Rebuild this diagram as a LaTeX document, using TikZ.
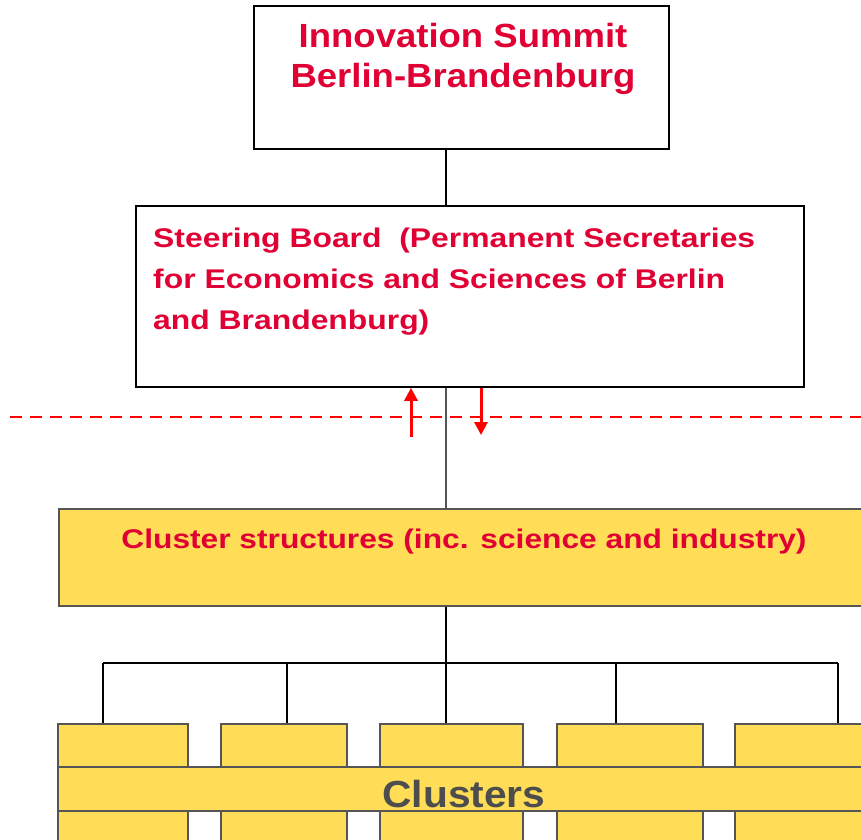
\documentclass[tikz,border=0pt]{standalone}
\usepackage{fontspec}
\setmainfont{Liberation Sans}
\usetikzlibrary{arrows.meta}
\definecolor{titlered}{RGB}{224,0,52}
\definecolor{clusteryellow}{RGB}{255,221,87}
\definecolor{edgegrey}{RGB}{85,85,85}
\definecolor{labelgrey}{RGB}{77,77,77}
\begin{document}
\begin{tikzpicture}[x=1pt,y=-1pt,
  whitebox/.style={draw=black, line width=1.6pt, fill=white, rectangle, inner sep=0pt},
  yellowbox/.style={draw=edgegrey, line width=1.6pt, fill=clusteryellow, rectangle, inner sep=0pt},
  link/.style={draw=black, line width=1.6pt},
  greylink/.style={draw=edgegrey, line width=1.6pt},
  flow/.style={draw=red, line width=3pt, -{Triangle[length=13pt,width=13pt]}},
  boundary/.style={draw=red, line width=2.5pt, dash pattern=on 12pt off 8pt},
  redtext/.style={text=titlered, font=\bfseries, inner sep=0pt, transform shape},
]
\useasboundingbox (0,0) rectangle (861,839);
\clip (0,0) rectangle (861,839);

% boxes
\node[whitebox, minimum width=415pt, minimum height=143pt] (summit) at (461.5,77.5) {};
\node[whitebox, minimum width=668pt, minimum height=181pt] (steer) at (470,296.5) {};
\node[yellowbox, minimum width=821pt, minimum height=97pt] (cstruct) at (469.5,557.5) {};

% cluster boxes
\node[yellowbox, minimum width=130pt, minimum height=136pt] (c1) at (123,792) {};
\node[yellowbox, minimum width=126pt, minimum height=136pt] (c2) at (284,792) {};
\node[yellowbox, minimum width=143pt, minimum height=136pt] (c3) at (451.5,792) {};
\node[yellowbox, minimum width=146pt, minimum height=136pt] (c4) at (630,792) {};
\node[yellowbox, minimum width=145pt, minimum height=136pt] (c5) at (807.5,792) {};
\node[yellowbox, minimum width=822pt, minimum height=44pt] (band) at (469,789) {};

% texts
\begin{scope}[xscale=1.09]
\node[redtext, anchor=base, font=\bfseries\fontsize{33.5}{40}\selectfont] (summitA) at (463/1.09,47) {Innovation Summit};
\node[redtext, anchor=base, font=\bfseries\fontsize{33.5}{40}\selectfont] (summitB) at (463/1.09,87) {Berlin-Brandenburg};
\end{scope}
\begin{scope}[xscale=1.18]
\node[redtext, anchor=base west, font=\bfseries\fontsize{27}{41}\selectfont] (steerA) at (153/1.18,247) {Steering Board\ \ (Permanent Secretaries};
\node[redtext, anchor=base west, font=\bfseries\fontsize{27}{41}\selectfont] (steerB) at (153/1.18,288) {for Economics and Sciences of Berlin};
\node[redtext, anchor=base west, font=\bfseries\fontsize{27}{41}\selectfont] (steerC) at (153/1.18,329) {and Brandenburg)};
\end{scope}
\begin{scope}[xscale=1.175]
\node[redtext, anchor=base, font=\bfseries\fontsize{27}{41}\selectfont] (cstructtext) at (464/1.175,548) {Cluster structures (inc. science and industry)};
\end{scope}
\begin{scope}[xscale=1.08]
\node[inner sep=0pt, transform shape, anchor=base, text=labelgrey, font=\bfseries\fontsize{37.7}{44}\selectfont] (clusterstext) at (464/1.08,807) {Clusters};
\end{scope}

% helper coordinates
\coordinate (spine) at (446,0);
\coordinate (upfoot) at (411,437);
\coordinate (downfoot) at (481,435);
\coordinate (dashL) at (10,417);
\coordinate (dashR) at (870,417);
\coordinate (fork) at (446,663);
\coordinate (forkL) at (103,663);
\coordinate (forkB) at (287,663);
\coordinate (forkD) at (616,663);
\coordinate (forkR) at (838,663);

% connectors
\draw[link] (summit.south -| spine) -- (steer.north -| spine);
\draw[greylink] (steer.south -| spine) -- (cstruct.north -| spine);
\draw[link] (cstruct.south -| spine) -- (fork);
\draw[link] (forkL) -- (forkR);
\draw[link] (forkL) -- (c1.north -| forkL);
\draw[link] (forkB) -- (c2.north -| forkB);
\draw[link] (fork) -- (c3.north -| fork);
\draw[link] (forkD) -- (c4.north -| forkD);
\draw[link] (forkR) -- (c5.north -| forkR);

% boundary and flows
\draw[boundary] (dashL) -- (dashR);
\draw[flow] (upfoot) -- (steer.south -| upfoot);
\draw[flow] (steer.south -| downfoot) -- (downfoot);
\end{tikzpicture}
\end{document}
